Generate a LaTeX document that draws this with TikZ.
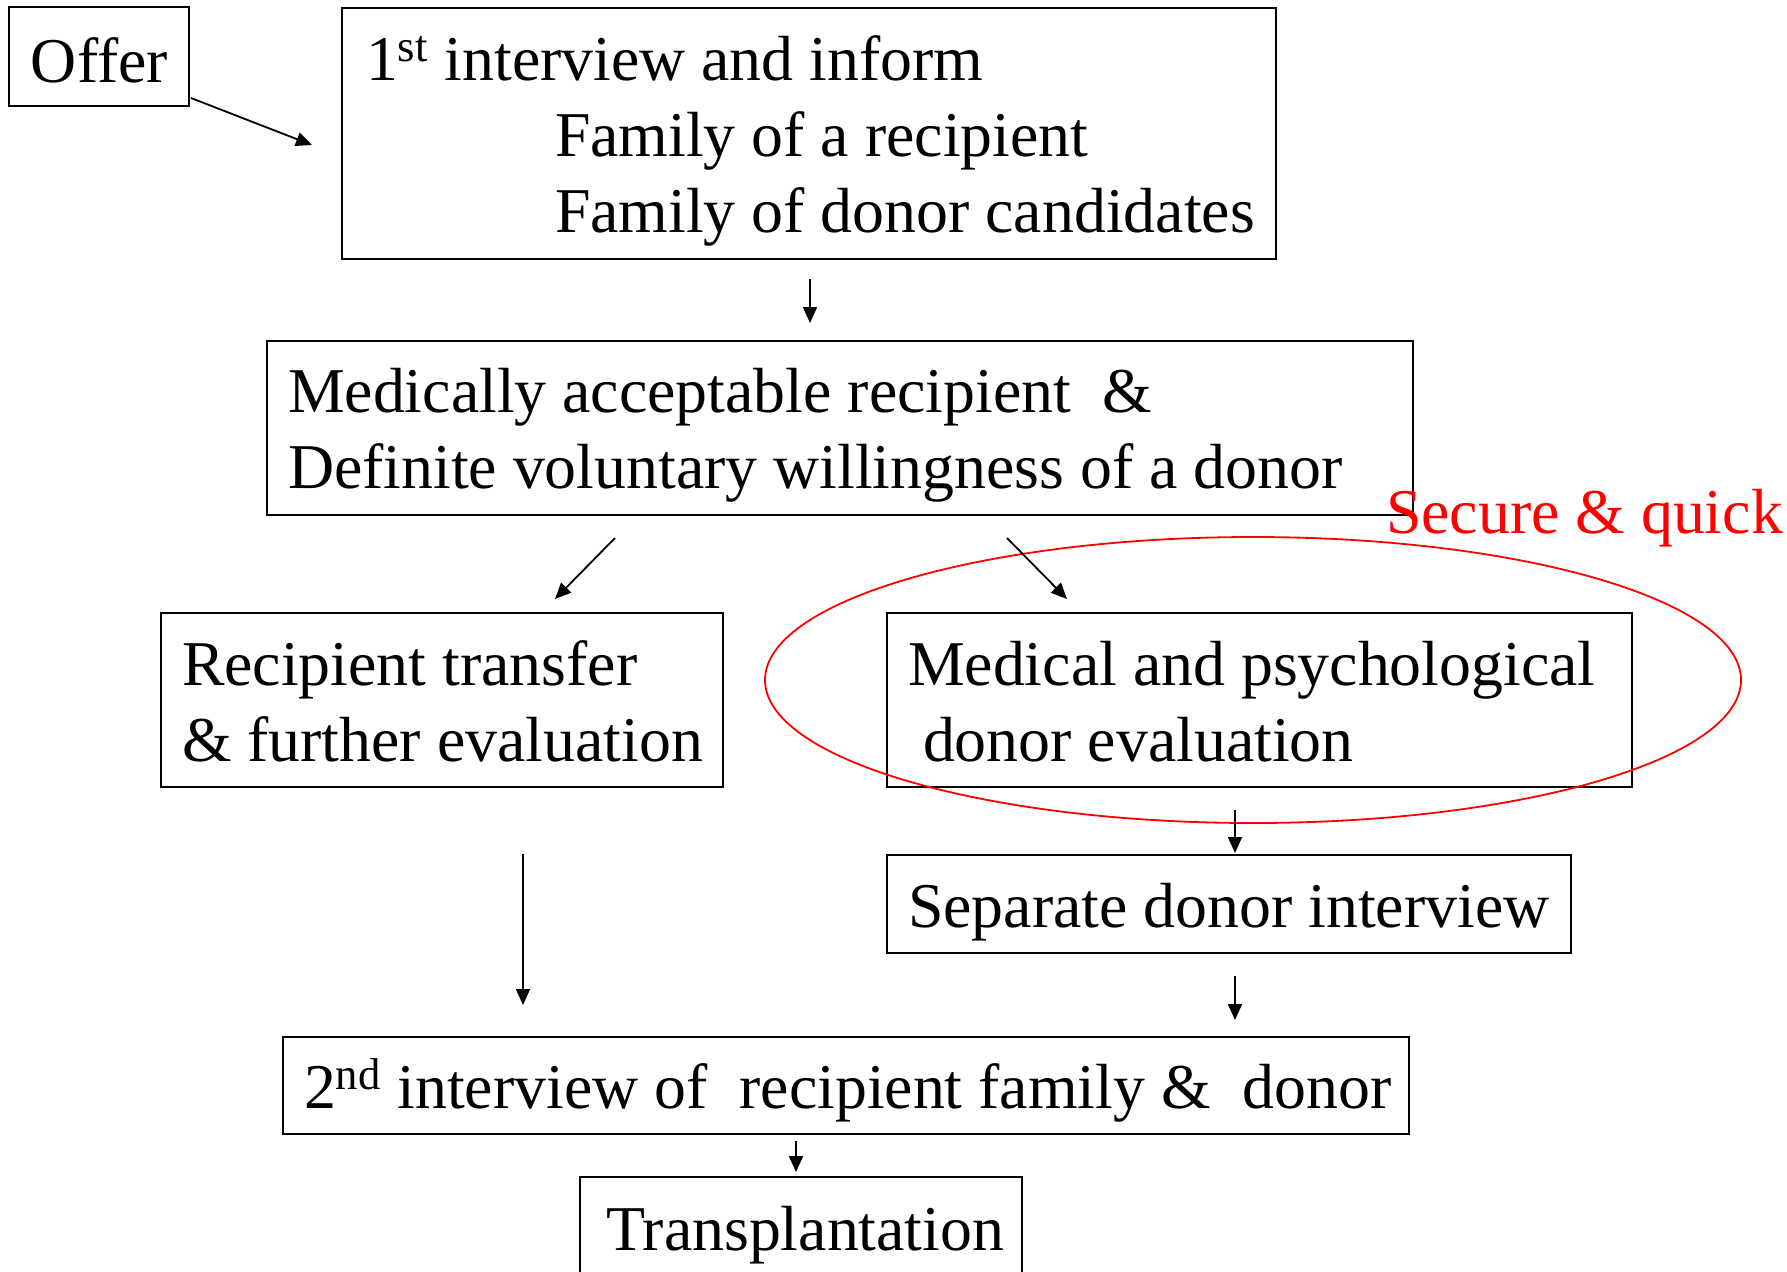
\documentclass[tikz,border=0pt]{standalone}
\usepackage{fontspec}
\setmainfont{Liberation Serif}
\usetikzlibrary{arrows.meta,calc}

\definecolor{accent}{RGB}{255,0,0}

\begin{document}
\begin{tikzpicture}[x=0.5pt,y=-0.5pt,
  box/.style={draw, line width=1pt, inner sep=0pt, outer sep=0pt, anchor=north west},
  txt/.style={inner sep=0pt, outer sep=0pt, anchor=north west, align=left,
              font=\fontsize{31.9}{38}\selectfont},
  arr/.style={line width=0.9pt, -{Triangle[length=8pt,width=7pt]}}]

\useasboundingbox (0,0) rectangle (1787,1271);

% frames
\node[box, minimum width=90pt,    minimum height=49.5pt]  (offer) at (9,7) {};
\node[box, minimum width=467pt,   minimum height=125.5pt] (b1) at (342,8) {};
\node[box, minimum width=573pt,   minimum height=87pt]    (b2) at (267,341) {};
\node[box, minimum width=281pt,   minimum height=87pt]    (b3) at (161,613) {};
\node[box, minimum width=372.5pt, minimum height=87pt]    (b4) at (887,613) {};
\node[box, minimum width=342pt,   minimum height=49pt]    (b5) at (887,855) {};
\node[box, minimum width=563pt,   minimum height=48.5pt]  (b6) at (283,1037) {};
\node[box, minimum width=221pt,   minimum height=48.5pt]  (b7) at (580,1177) {};

% texts
\node[txt] (offert) at (31,28.8) {\strut Offer};
\node[txt] (b1t) at (366,26.8) {\strut 1\textsuperscript{st} interview and inform\\
  \strut\hspace*{94.5pt}Family of a recipient\\
  \strut\hspace*{94.5pt}Family of donor candidates};
\node[txt] (b2t) at (288,358.8) {\strut Medically acceptable recipient\ \ \&\\
  \strut Definite voluntary willingness of a donor};
\node[txt] (b3t) at (182,631.8) {\strut Recipient transfer\\
  \strut\& further evaluation};
\node[txt] (b4t) at (908,631.8) {\strut Medical and psychological\\
  \strut\hspace*{7.5pt}donor evaluation};
\node[txt] (b5t) at (908,873.8) {\strut Separate donor interview};
\node[txt] (b6t) at (304,1054.8) {\strut 2\textsuperscript{nd} interview of\ \ recipient family \&\ \ donor};
\node[txt] (b7t) at (606,1196.8) {\strut Transplantation};
\node[txt, text=accent] (sq) at (1386,479.8) {\strut Secure \& quick};

% highlight
\draw[accent, line width=0.9pt] (1253,680) ellipse [x radius=244pt, y radius=71.5pt];

% connectors
\draw[arr] ($(offer.south east)+(2,-8)$) -- ($(b1.west)+(-30,11.5)$);
\draw[arr] ($(b1.south)+(1,20)$) -- ($(b1.south |- b2.north)+(1,-18)$);
\draw[arr] ($(b2.south west)+(348,23)$) -- ($(b3.north west)+(394,-14)$);
\draw[arr] ($(b2.south west)+(740,23)$) -- ($(b4.north west)+(180,-14)$);
\draw[arr] ($(b4.south west)+(348,23)$) -- ($(b5.north west)+(348,-2)$);
\draw[arr] ($(b5.south west)+(348,23)$) -- ($(b6.north west)+(952,-17)$);
\draw[arr] ($(b3.south west)+(362,67)$) -- ($(b6.north west)+(240,-32)$);
\draw[arr] ($(b6.south west)+(513,7)$) -- ($(b7.north west)+(216,-5)$);

\end{tikzpicture}
\end{document}
